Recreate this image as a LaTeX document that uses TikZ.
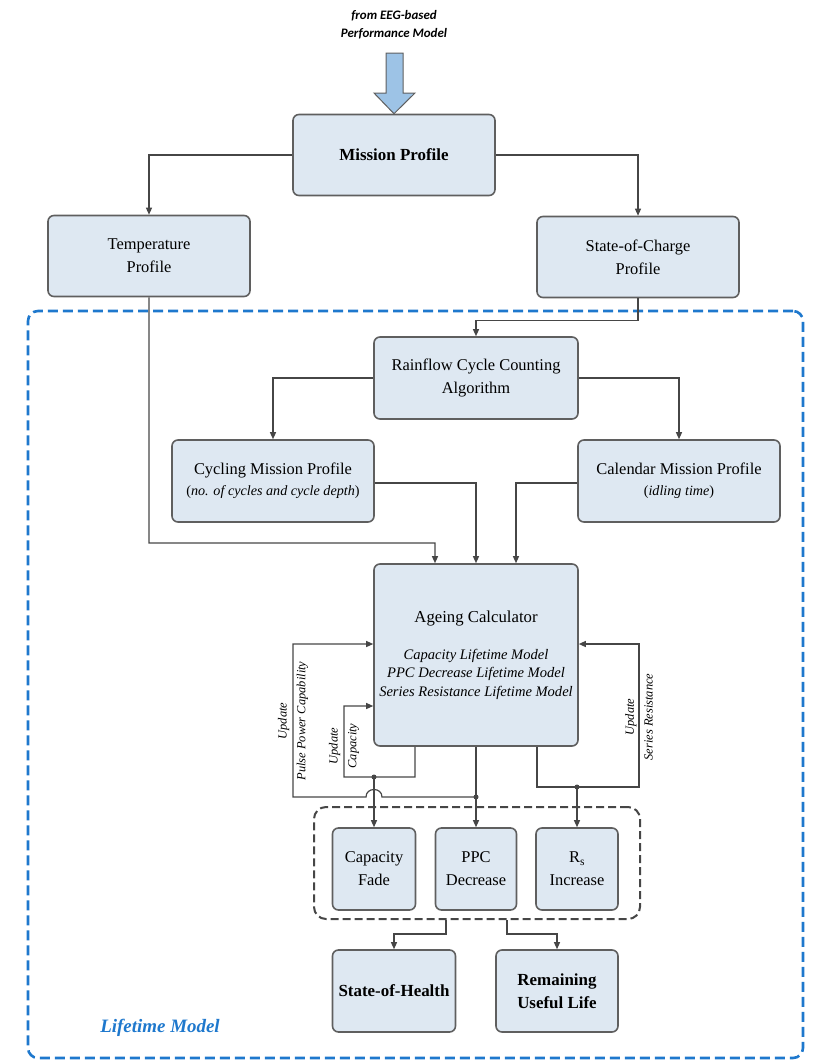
\documentclass[tikz,border=0pt]{standalone}
\usepackage{fontspec}
\setmainfont{Liberation Serif}
\newfontfamily\calfont{Carlito}
\usetikzlibrary{arrows.meta}
\definecolor{boxblue}{RGB}{222,232,242}
\definecolor{boxgray}{RGB}{95,95,95}
\definecolor{linegray}{RGB}{70,70,70}
\definecolor{lmblue}{RGB}{30,120,205}
\definecolor{arrowblue}{RGB}{157,195,230}

\begin{document}
\begin{tikzpicture}[x=1bp, y=-1bp,
    blk/.style={draw=boxgray, line width=1.6bp, fill=boxblue, rounded corners=6bp,
      align=center, inner sep=2bp, font=\fontsize{16.5}{23}\selectfont},
    ln/.style={draw=linegray, line width=1.2bp},
    arr/.style={ln, -{Triangle[length=7bp,width=6bp]}},
    dot/.style={circle, fill=linegray, inner sep=0pt, minimum size=5bp},
    upd/.style={rotate=90, align=center, font=\fontsize{12.5}{19}\selectfont\itshape}]
    \useasboundingbox (0,0) rectangle (818,1061);
    % lifetime model frame
    \node[draw=lmblue, line width=2.6bp, dash pattern=on 10bp off 5bp, rounded corners=10bp,
      minimum width=775bp, minimum height=747bp] (lm) at (415.5,684.5) {};
    \node[text=lmblue, font=\fontsize{19}{20}\selectfont\bfseries\itshape] (lmlab) at (160,1028) {Lifetime Model};

    \node[font={\calfont\bfseries\itshape\fontsize{13}{18}\selectfont}, align=center] (src) at (394,25) {from EEG-based\\Performance Model};
    \node[blk, minimum width=202bp, minimum height=81bp, font=\fontsize{17}{23}\selectfont\bfseries] (mp) at (394,155) {Mission Profile};
    \draw[draw=boxgray, fill=arrowblue, line width=1bp] (386,53) -- (403,53) -- (403,93) -- (415,93) -- (mp.north) -- (374,93) -- (386,93) -- cycle;

    \node[blk, minimum width=202bp, minimum height=81bp] (tp) at (149,256) {Temperature\\Profile};
    \node[blk, minimum width=202bp, minimum height=81bp] (soc) at (638,257) {State-of-Charge\\Profile};
    \node[blk, minimum width=204bp, minimum height=82bp] (rf) at (476,378) {Rainflow Cycle Counting\\Algorithm};
    \node[blk, minimum width=202bp, minimum height=82bp] (cyc) at (273,481) {Cycling Mission Profile\\[-2bp]
      {\fontsize{14.2}{16}\selectfont(\textit{no. of cycles and cycle depth})}};
    \node[blk, minimum width=202bp, minimum height=82bp] (cal) at (679,481) {Calendar Mission Profile\\[-2bp]
      {\fontsize{14.2}{16}\selectfont(\textit{idling time})}};
    \node[blk, minimum width=204bp, minimum height=182bp, font=\fontsize{14.6}{18.5}\selectfont] (ac) at (476,655)
      {{\fontsize{16.8}{19}\selectfont Ageing Calculator}\\[19bp]
      \textit{Capacity Lifetime Model}\\\textit{PPC Decrease Lifetime Model}\\\textit{Series Resistance Lifetime Model}};

    \node[draw=linegray, line width=2bp, dash pattern=on 8bp off 4bp, rounded corners=12bp,
      minimum width=326bp, minimum height=112bp] (grp) at (477,863) {};
    \node[blk, minimum width=83bp, minimum height=82bp] (cf) at (374,869) {Capacity\\Fade};
    \node[blk, minimum width=81bp, minimum height=82bp] (ppc) at (476,869) {PPC\\Decrease};
    \node[blk, minimum width=82bp, minimum height=82bp] (rs) at (577,869) {R\textsubscript{s}\\Increase};
    \node[blk, minimum width=123bp, minimum height=82bp, font=\fontsize{17}{23}\selectfont\bfseries] (soh) at (394,991) {State-of-Health};
    \node[blk, minimum width=122bp, minimum height=82bp, font=\fontsize{17}{23}\selectfont\bfseries] (rul) at (557,991) {Remaining\\Useful Life};

    % profiles
    \draw[arr] (mp.west) -| (tp.north);
    \draw[arr] (mp.east) -| (soc.north);
    \draw[arr] (soc.south) -- ++(0,22) -| (rf.north);
    \draw[arr] (rf.west) -| (cyc.north);
    \draw[arr] (rf.east) -| (cal.north);
    \draw[arr] (tp.south) |- (435,543) -- ([xshift=-41bp]ac.north);
    \draw[arr] ([yshift=-2bp]cyc.east) -| (ac.north);
    \draw[arr] ([yshift=-2bp]cal.west) -| ([xshift=40bp]ac.north);

    % outputs and update loops
    \node[dot] (d1) at (374,777) {};
    \node[dot] (d2) at (476,797) {};
    \node[dot] (d3) at (577,787) {};
    \draw[ln] (ac.south) -- (d2.center);
    \draw[arr] ([xshift=-61bp]ac.south) |- (d1.center) -| (344,706) -- ([yshift=-51bp]ac.west);
    \draw[arr] (d2.center) -- (382,797) .. controls (382,787) and (366,787) .. (366,797) -- (293,797) |- ([yshift=11bp]ac.west);
    \draw[arr] ([xshift=61bp]ac.south) |- (639,787) |- ([yshift=11bp]ac.east);
    \draw[arr] (d1.center) -- (cf.north);
    \draw[arr] (d2.center) -- (ppc.north);
    \draw[arr] (d3.center) -- (rs.north);
    \node[upd] (u1) at (293,721) {Update\\Pulse Power Capability};
    \node[upd] (u2) at (344,746) {Update\\Capacity};
    \node[upd] (u3) at (639,717) {Update\\Series Resistance};

    \draw[arr] ([xshift=-31bp]grp.south) -- ++(0,14) -| (soh.north);
    \draw[arr] ([xshift=30bp]grp.south) -- ++(0,14) -| (rul.north);
\end{tikzpicture}
\end{document}
